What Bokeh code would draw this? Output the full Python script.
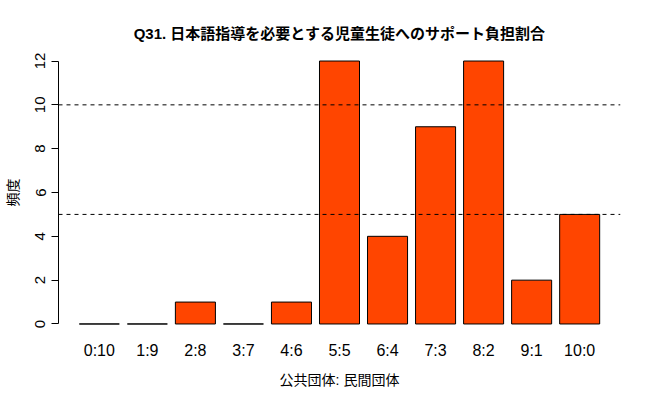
from bokeh.plotting import figure
from bokeh.models import Range1d, FactorRange, Span, FixedTicker, ColumnDataSource
from bokeh.embed import file_html
from bokeh.resources import INLINE

categories = ["0:10", "1:9", "2:8", "3:7", "4:6", "5:5", "6:4", "7:3", "8:2", "9:1", "10:0"]
counts = [0, 0, 1, 0, 1, 12, 4, 9, 12, 2, 5]
ref_lines = [5, 10]
y_ticks = [0, 2, 4, 6, 8, 10, 12]

title_text = "Q31. 日本語指導を必要とする児童生徒へのサポート負担割合"
x_title = "公共団体: 民間団体"
y_title = "頻度"

FONT = "'Liberation Sans', 'Noto Sans CJK JP', sans-serif"

src = ColumnDataSource(dict(cat=categories, n=counts))

p = figure(width=650, height=400, output_backend="svg", toolbar_location=None,
           x_range=FactorRange(*categories, range_padding=0.35, range_padding_units="absolute"),
           y_range=Range1d(-0.48, 12.48),
           min_border_left=58, min_border_right=30, min_border_top=50, min_border_bottom=66,
           title=title_text)
p.outline_line_color = None
p.background_fill_color = "white"
p.border_fill_color = "white"
p.grid.visible = False

p.title.align = "center"
p.title.text_font = FONT
p.title.text_font_style = "bold"
p.title.text_font_size = "15px"
p.title.text_color = "black"
p.title.standoff = 17

p.vbar(x="cat", top="n", bottom=0, width=1/1.2, source=src,
       fill_color="#FF4500", line_color="black", line_width=1)

for v in ref_lines:
    p.add_layout(Span(location=v, dimension="width", line_color="black",
                      line_dash="4 4", line_width=1))

xa = p.xaxis[0]
xa.axis_line_color = None
xa.major_tick_line_color = None
xa.minor_tick_line_color = None
xa.major_label_text_font = FONT
xa.major_label_text_font_size = "16px"
xa.major_label_text_color = "black"
xa.major_label_standoff = 1
xa.axis_label = x_title
xa.axis_label_text_font = FONT
xa.axis_label_text_font_size = "14px"
xa.axis_label_text_font_style = "normal"
xa.axis_label_text_color = "black"
xa.axis_label_standoff = 10

ya = p.yaxis[0]
ya.ticker = FixedTicker(ticks=y_ticks)
ya.bounds = (0, 12)
ya.axis_line_color = "black"
ya.major_tick_out = 7
ya.major_tick_in = 0
ya.minor_tick_line_color = None
ya.major_label_orientation = "vertical"
ya.major_label_text_font = FONT
ya.major_label_text_font_size = "15px"
ya.major_label_text_color = "black"
ya.major_label_standoff = 6
ya.axis_label = y_title
ya.axis_label_text_font = FONT
ya.axis_label_text_font_size = "14px"
ya.axis_label_text_font_style = "normal"
ya.axis_label_text_color = "black"
ya.axis_label_standoff = 12

open("out.html", "w").write(file_html(p, INLINE))
